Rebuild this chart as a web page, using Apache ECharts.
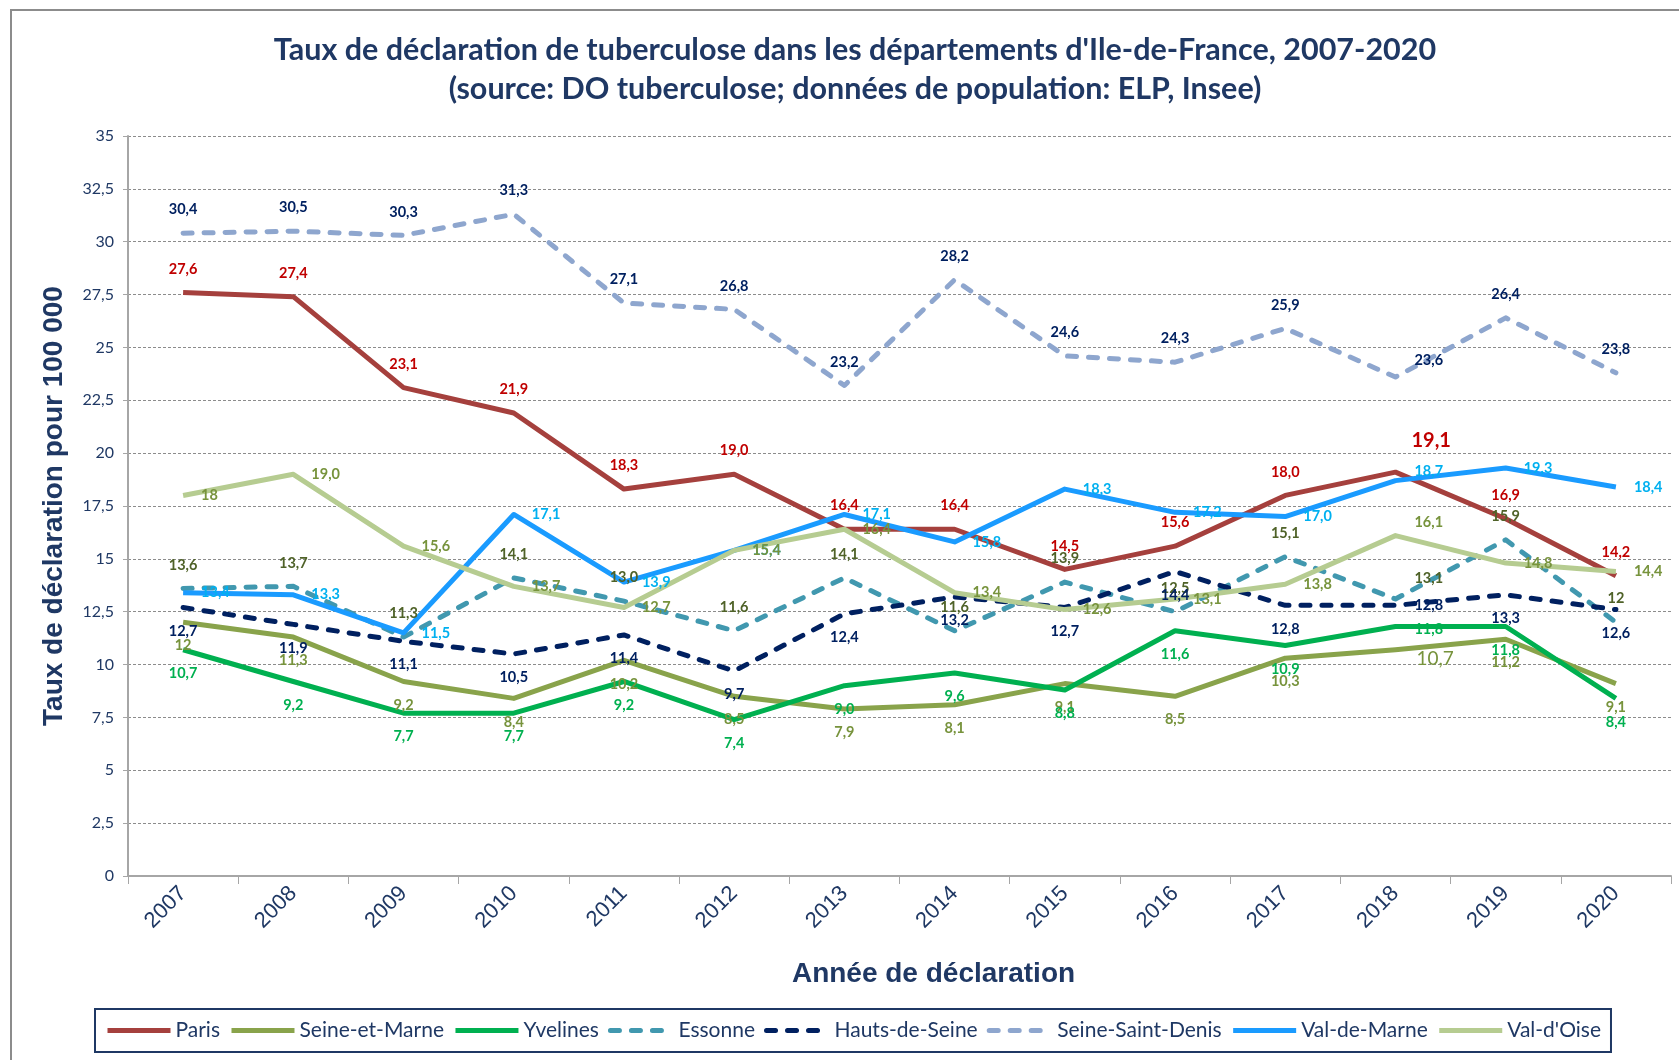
<!DOCTYPE html>
<html>
<head>
<meta charset="utf-8">
<script src="https://cdn.jsdelivr.net/npm/echarts@6/dist/echarts.min.js"></script>
<style>
html, body { margin: 0; padding: 0; background: #fff; }
#chart { width: 1679px; height: 1060px; }
</style>
</head>
<body>
<div id="chart"></div>
<script>
// données
const years = ['2007', '2008', '2009', '2010', '2011', '2012', '2013', '2014', '2015', '2016', '2017', '2018', '2019', '2020'];

const paris           = [27.6, 27.4, 23.1, 21.9, 18.3, 19.0, 16.4, 16.4, 14.5, 15.6, 18.0, 19.1, 16.9, 14.2];
const seineEtMarne    = [12.0, 11.3, 9.2, 8.4, 10.2, 8.5, 7.9, 8.1, 9.1, 8.5, 10.3, 10.7, 11.2, 9.1];
const yvelines        = [10.7, 9.2, 7.7, 7.7, 9.2, 7.4, 9.0, 9.6, 8.8, 11.6, 10.9, 11.8, 11.8, 8.4];
const essonne         = [13.6, 13.7, 11.3, 14.1, 13.0, 11.6, 14.1, 11.6, 13.9, 12.5, 15.1, 13.1, 15.9, 12.0];
const hautsDeSeine    = [12.7, 11.9, 11.1, 10.5, 11.4, 9.7, 12.4, 13.2, 12.7, 14.4, 12.8, 12.8, 13.3, 12.6];
const seineSaintDenis = [30.4, 30.5, 30.3, 31.3, 27.1, 26.8, 23.2, 28.2, 24.6, 24.3, 25.9, 23.6, 26.4, 23.8];
const valDeMarne      = [13.4, 13.3, 11.5, 17.1, 13.9, 15.4, 17.1, 15.8, 18.3, 17.2, 17.0, 18.7, 19.3, 18.4];
const valDOise        = [18.0, 19.0, 15.6, 13.7, 12.7, 15.4, 16.4, 13.4, 12.6, 13.1, 13.8, 16.1, 14.8, 14.4];

// in the original a few labels were printed without decimals
const integerLabels = { 'Seine-et-Marne': [0], 'Essonne': [13], "Val-d'Oise": [0] };

const navy = '#1F3864';
const yearIdx2018 = 11;

function fmtLabel(name) {
  return function (p) {
    const ints = integerLabels[name] || [];
    if (ints.indexOf(p.dataIndex) >= 0) return String(Math.round(p.value));
    return p.value.toFixed(1).replace('.', ',');
  };
}

// name, values, line colour, label colour, label position, dashed, 2018 label shift, 2018 label style
function makeSeries(name, values, color, labelColor, pos, dashed, dy18, big18) {
  const data = values.map(function (v, i) {
    if (i !== yearIdx2018) return v;
    const lab = { position: 'right', distance: 19, offset: [0, dy18] };
    if (big18) Object.assign(lab, big18);
    return { value: v, label: lab };
  });
  return {
    name: name,
    type: 'line',
    data: data,
    symbol: 'circle',
    symbolSize: 0,
    itemStyle: { color: color },
    lineStyle: {
      color: color,
      width: 5,
      type: dashed ? [9, 12] : 'solid',
      cap: dashed ? 'round' : 'butt',
      join: 'round'
    },
    label: {
      show: true,
      position: pos,
      distance: pos === 'right' ? 18 : 16,
      color: labelColor,
      fontFamily: 'Lato',
      fontWeight: 'bold',
      fontSize: 14.5,
      formatter: fmtLabel(name)
    },
    emphasis: { disabled: true }
  };
}

const chart = echarts.init(document.getElementById('chart'));

chart.setOption({
  animation: false,
  backgroundColor: '#fff',
  title: {
    text: "Taux de déclaration de tuberculose dans les départements d'Ile-de-France, 2007-2020\n(source: DO tuberculose; données de population: ELP, Insee)",
    left: 850,
    textAlign: 'center',
    top: 26,
    textStyle: {
      fontFamily: 'Lato',
      fontWeight: 'bold',
      fontSize: 30.5,
      lineHeight: 39,
      color: navy
    }
  },
  graphic: [{
    type: 'rect',
    shape: { x: 11, y: 10, width: 1720, height: 1100 },
    style: { fill: 'none', stroke: '#8C8C8C', lineWidth: 2 },
    silent: true
  }],
  legend: {
    left: 95,
    top: 1009,
    itemWidth: 63,
    itemHeight: 14,
    itemGap: 9,
    padding: [11, 10],
    borderColor: navy,
    borderWidth: 2,
    itemStyle: { opacity: 0 },
    lineStyle: { width: 5 },
    textStyle: { fontFamily: 'Lato', fontSize: 21, color: navy }
  },
  grid: { left: 128, right: 8, top: 136, bottom: 184, containLabel: false },
  xAxis: {
    type: 'category',
    data: years,
    boundaryGap: true,
    name: 'Année de déclaration',
    nameLocation: 'middle',
    nameGap: 84,
    nameTextStyle: {
      fontFamily: 'Liberation Sans',
      fontWeight: 'bold',
      fontSize: 28,
      color: navy,
      padding: [0, 0, 0, 68]
    },
    axisLine: { lineStyle: { color: '#A6A6A6', width: 2 } },
    axisTick: { show: true, length: 8, lineStyle: { color: '#A6A6A6' } },
    axisLabel: {
      rotate: 45,
      margin: 14,
      fontFamily: 'Liberation Sans',
      fontSize: 22,
      color: navy
    },
    splitLine: { show: false }
  },
  yAxis: {
    type: 'value',
    min: 0,
    max: 35,
    interval: 2.5,
    name: 'Taux de déclaration pour 100 000',
    nameLocation: 'middle',
    nameRotate: 90,
    nameGap: 60,
    nameTextStyle: {
      fontFamily: 'Liberation Sans',
      fontWeight: 'bold',
      fontSize: 28,
      color: navy
    },
    axisLine: { show: true, lineStyle: { color: '#A6A6A6', width: 2 } },
    axisTick: { show: true, length: 5, lineStyle: { color: '#A6A6A6' } },
    axisLabel: {
      margin: 14,
      fontFamily: 'Lato',
      fontSize: 16,
      color: navy,
      formatter: function (v) { return String(v).replace('.', ','); }
    },
    splitLine: { show: true, lineStyle: { color: '#8C8C8C', type: [3, 2], width: 1 } }
  },
  series: [
    makeSeries('Paris', paris, '#A5403D', '#C00000', 'top', false, -32, { fontSize: 20, distance: 16 }),
    makeSeries('Seine-et-Marne', seineEtMarne, '#89A34B', '#77933C', 'bottom', false, 9, { fontSize: 19, fontWeight: 'normal', distance: 21 }),
    makeSeries('Yvelines', yvelines, '#00B050', '#00B050', 'bottom', false, 3),
    makeSeries('Essonne', essonne, '#4198AF', '#4F6228', 'top', true, -21),
    makeSeries('Hauts-de-Seine', hautsDeSeine, '#002060', '#002060', 'bottom', true, 0),
    makeSeries('Seine-Saint-Denis', seineSaintDenis, '#8EA6CE', '#002060', 'top', true, -17),
    makeSeries('Val-de-Marne', valDeMarne, '#1A9BFF', '#00B0F0', 'right', false, -9),
    makeSeries("Val-d'Oise", valDOise, '#B6CC91', '#77933C', 'right', false, -13)
  ]
});
</script>
</body>
</html>
